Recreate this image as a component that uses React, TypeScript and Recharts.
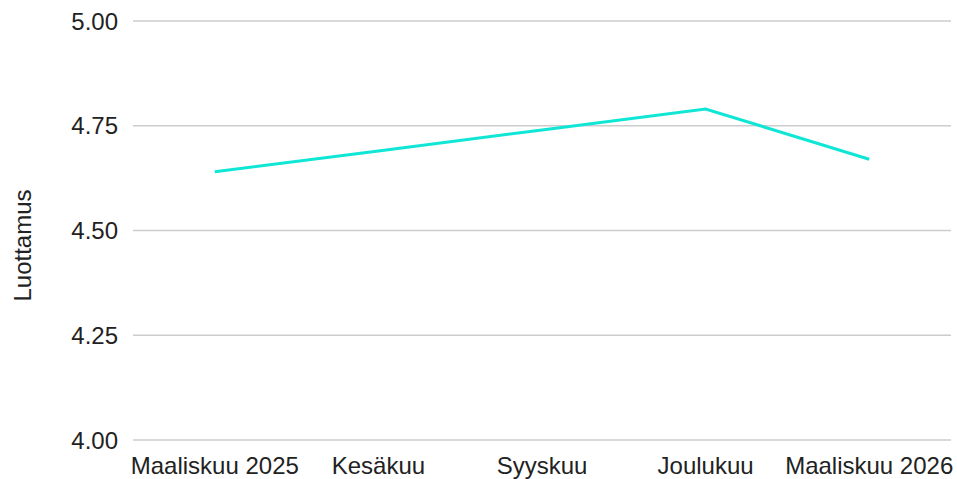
import { LineChart, Line, XAxis, YAxis, CartesianGrid } from 'recharts';

const months = ['Maaliskuu 2025', 'Kesäkuu', 'Syyskuu', 'Joulukuu', 'Maaliskuu 2026'];
const trust = [4.64, 4.69, 4.74, 4.79, 4.67];
const yTicks = [4.0, 4.25, 4.5, 4.75, 5.0];

const data = months.map((month, i) => ({ month, trust: trust[i] }));

const font = '"Liberation Sans", Arial, sans-serif';

const AxisTitle = ({ viewBox }: any) => {
  const cx = viewBox.x + 22;
  const cy = viewBox.y + viewBox.height / 2 + 15;
  return (
    <text
      x={cx}
      y={cy}
      transform={`rotate(-90, ${cx}, ${cy})`}
      textAnchor="middle"
      dominantBaseline="central"
      fill="#222"
      fontSize={24}
      fontFamily={font}
    >
      Luottamus
    </text>
  );
};

const App = () => {
  return (
    <div style={{ position: 'absolute', left: 0, top: 0 }}>
      <LineChart width={957} height={479} data={data} margin={{ top: 21, right: 6, bottom: 0, left: 0 }}>
        <CartesianGrid vertical={false} stroke="#cccccc" strokeWidth={1.5} />
        <XAxis
          dataKey="month"
          scale="band"
          interval={0}
          axisLine={false}
          tickLine={false}
          tickMargin={11}
          height={39}
          tick={{ fill: '#222', fontSize: 24, fontFamily: font }}
        />
        <YAxis
          domain={[4, 5]}
          ticks={yTicks}
          width={133}
          axisLine={false}
          tickLine={false}
          tickMargin={9}
          tickFormatter={(v: number) => v.toFixed(2)}
          tick={{ fill: '#222', fontSize: 24, fontFamily: font }}
          label={<AxisTitle />}
        />
        <Line
          type="linear"
          dataKey="trust"
          stroke="#10e6d6"
          strokeWidth={3}
          dot={false}
          activeDot={false}
          isAnimationActive={false}
        />
      </LineChart>
    </div>
  );
};

export default App;
